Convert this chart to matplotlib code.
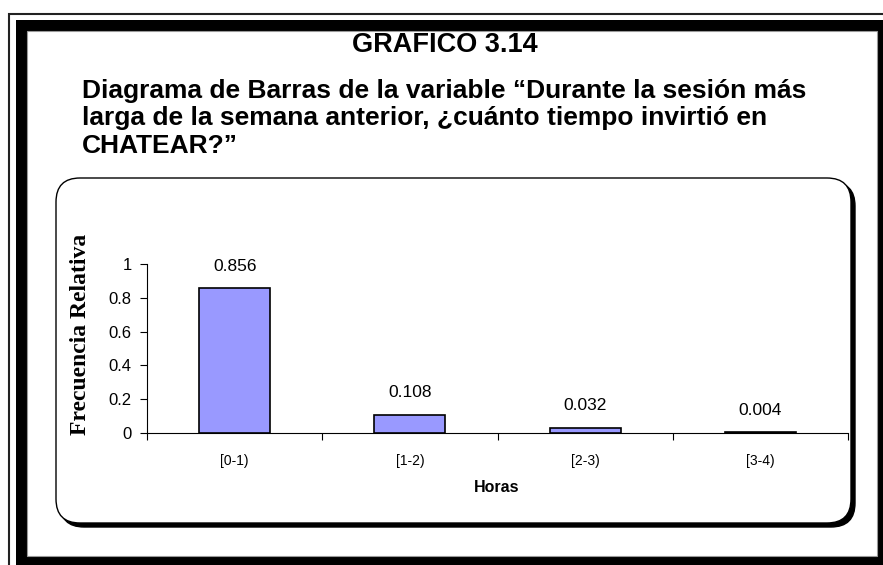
import matplotlib
matplotlib.use('Agg')
import matplotlib.pyplot as plt
from matplotlib.patches import Rectangle, FancyBboxPatch
import numpy as np

# data
categories = ['[0-1)', '[1-2)', '[2-3)', '[3-4)']
rel_freq = [0.856, 0.108, 0.032, 0.004]
y_ticks = [0, 0.2, 0.4, 0.6, 0.8, 1]

W, H = 883, 565
fig = plt.figure(figsize=(W / 100, H / 100), dpi=100)
fig.patch.set_facecolor('white')


def px_rect(x0, y0, x1, y1, **kw):
    # pixel coords measured from top-left of the image
    return Rectangle((x0 / W, 1 - y1 / H), (x1 - x0) / W, (y1 - y0) / H,
                     transform=fig.transFigure, **kw)


# page frame: thin outer line + thick black border
fig.patches.append(px_rect(9, 14, W + 20, H + 20, facecolor='none',
                           edgecolor='#222222', linewidth=1.5, zorder=-10))
fig.patches.append(px_rect(16, 20, W + 20, H + 20, facecolor='black',
                           edgecolor='none', zorder=-9))
fig.patches.append(px_rect(27, 31, 877, 556, facecolor='white',
                           edgecolor='#999999', linewidth=0.8, zorder=-8))

# rounded chart box with shadow on right/bottom
bx0, by0, bx1, by1 = 56, 178, 851, 523
r = 24
shadow = FancyBboxPatch((bx0 / W + 4 / W, 1 - by1 / H - 4 / H),
                        (bx1 - bx0) / W, (by1 - by0) / H,
                        boxstyle=f"round,pad=0,rounding_size={r / W}",
                        transform=fig.transFigure, facecolor='black',
                        edgecolor='black', linewidth=1, mutation_aspect=W / H,
                        zorder=-7)
box = FancyBboxPatch((bx0 / W, 1 - by1 / H),
                     (bx1 - bx0) / W, (by1 - by0) / H,
                     boxstyle=f"round,pad=0,rounding_size={r / W}",
                     transform=fig.transFigure, facecolor='white',
                     edgecolor='black', linewidth=1, mutation_aspect=W / H,
                     zorder=-6)
fig.patches.append(shadow)
fig.patches.append(box)

# titles
fig.text(445 / W, 1 - 45 / H, 'GRAFICO 3.14', ha='center', va='center',
         fontsize=19.5, fontweight='bold', family='Liberation Sans')
subtitle = ['Diagrama de Barras de la variable \u201cDurante la sesi\u00f3n m\u00e1s',
            'larga de la semana anterior, \u00bfcu\u00e1nto tiempo invirti\u00f3 en',
            'CHATEAR?\u201d']
for i, line in enumerate(subtitle):
    fig.text(82 / W, 1 - (91 + i * 27.5) / H, line, ha='left', va='center',
             fontsize=19, fontweight='bold', family='Liberation Sans')

# chart axes
ax_l, ax_r, ax_top, ax_bot = 147, 848, 264, 433
ax = fig.add_axes([ax_l / W, 1 - ax_bot / H, (ax_r - ax_l) / W, (ax_bot - ax_top) / H])
ax.set_facecolor('none')
x = np.arange(len(categories)) + 0.5
bars = ax.bar(x, rel_freq, width=0.405, color='#9999FF', edgecolor='black',
              linewidth=1.2, zorder=3)
for xi, v in zip(x, rel_freq):
    ax.annotate(f'{v:.3f}', (xi, v), xytext=(0, 16), textcoords='offset points',
                ha='center', va='center', fontsize=12.5, family='Liberation Sans')

ax.set_xlim(0, len(categories))
ax.set_ylim(0, 1)
ax.set_yticks(y_ticks)
ax.set_yticklabels(['0', '0.2', '0.4', '0.6', '0.8', '1'])
ax.set_xticks(x)
ax.set_xticklabels(categories)
ax.set_xticks(np.arange(len(categories) + 1), minor=True)
ax.tick_params(axis='x', which='major', length=0, pad=15, labelsize=10)
ax.tick_params(axis='x', which='minor', length=5, direction='out', width=0.8)
ax.tick_params(axis='y', length=5, direction='out', width=0.8, pad=6, labelsize=12)
for lab in ax.get_xticklabels() + ax.get_yticklabels():
    lab.set_family('Liberation Sans')
for s in ['top', 'right']:
    ax.spines[s].set_visible(False)
ax.spines['left'].set_linewidth(0.8)
ax.spines['bottom'].set_linewidth(0.8)
ax.spines['left'].set_bounds(0, 1)

fig.text(497 / W, 1 - 488 / H, 'Horas', ha='center', va='center',
         fontsize=11.5, fontweight='bold', family='Liberation Sans')
fig.text(80 / W, 1 - 334 / H, 'Frecuencia Relativa', ha='center', va='center',
         rotation=90, fontsize=17, fontweight='bold', family='Liberation Serif')

fig.savefig('out.png', dpi=100)
